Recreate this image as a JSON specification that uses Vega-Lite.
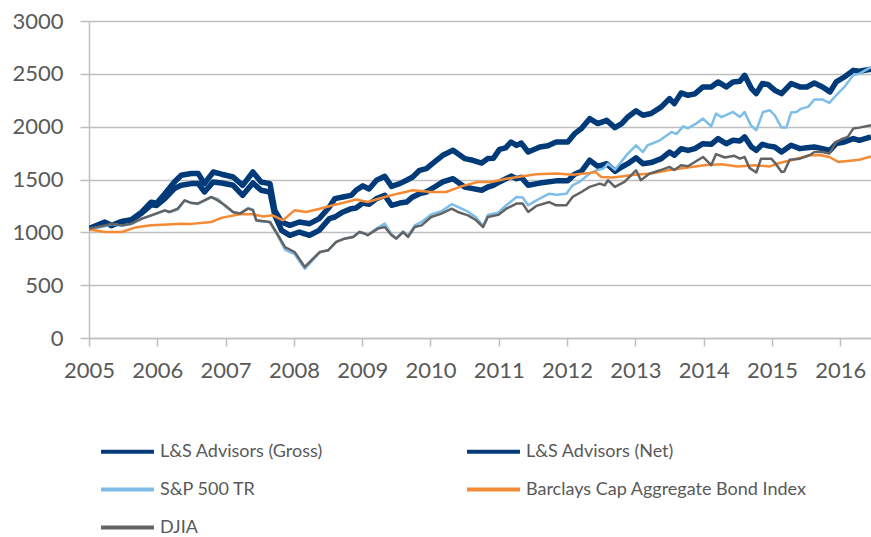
{
"$schema": "https://vega.github.io/schema/vega-lite/v6.json",
"width": 782, "height": 317,
"autosize": {"type": "none"},
"padding": {"left": 89, "top": 21, "right": 0, "bottom": 199},
"config": {"view": {"stroke": null}, "font": "Lato"},
"data": {"values": [
{"series":"L&S Advisors (Gross)","year":2005.00,"value":1035},{"series":"L&S Advisors (Gross)","year":2005.23,"value":1095},{"series":"L&S Advisors (Gross)","year":2005.33,"value":1065},{"series":"L&S Advisors (Gross)","year":2005.47,"value":1100},{"series":"L&S Advisors (Gross)","year":2005.62,"value":1120},{"series":"L&S Advisors (Gross)","year":2005.77,"value":1190},{"series":"L&S Advisors (Gross)","year":2005.91,"value":1285},{"series":"L&S Advisors (Gross)","year":2005.99,"value":1275},{"series":"L&S Advisors (Gross)","year":2006.11,"value":1365},{"series":"L&S Advisors (Gross)","year":2006.25,"value":1476},{"series":"L&S Advisors (Gross)","year":2006.35,"value":1540},{"series":"L&S Advisors (Gross)","year":2006.50,"value":1556},{"series":"L&S Advisors (Gross)","year":2006.60,"value":1556},{"series":"L&S Advisors (Gross)","year":2006.69,"value":1461},{"series":"L&S Advisors (Gross)","year":2006.82,"value":1571},{"series":"L&S Advisors (Gross)","year":2006.94,"value":1550},{"series":"L&S Advisors (Gross)","year":2007.11,"value":1524},{"series":"L&S Advisors (Gross)","year":2007.25,"value":1445},{"series":"L&S Advisors (Gross)","year":2007.40,"value":1571},{"series":"L&S Advisors (Gross)","year":2007.52,"value":1476},{"series":"L&S Advisors (Gross)","year":2007.65,"value":1461},{"series":"L&S Advisors (Gross)","year":2007.72,"value":1208},{"series":"L&S Advisors (Gross)","year":2007.82,"value":1098},{"series":"L&S Advisors (Gross)","year":2007.94,"value":1066},{"series":"L&S Advisors (Gross)","year":2008.08,"value":1098},{"series":"L&S Advisors (Gross)","year":2008.23,"value":1082},{"series":"L&S Advisors (Gross)","year":2008.37,"value":1130},{"series":"L&S Advisors (Gross)","year":2008.52,"value":1240},{"series":"L&S Advisors (Gross)","year":2008.60,"value":1319},{"series":"L&S Advisors (Gross)","year":2008.72,"value":1335},{"series":"L&S Advisors (Gross)","year":2008.84,"value":1350},{"series":"L&S Advisors (Gross)","year":2008.91,"value":1398},{"series":"L&S Advisors (Gross)","year":2009.01,"value":1440},{"series":"L&S Advisors (Gross)","year":2009.10,"value":1410},{"series":"L&S Advisors (Gross)","year":2009.21,"value":1493},{"series":"L&S Advisors (Gross)","year":2009.33,"value":1530},{"series":"L&S Advisors (Gross)","year":2009.43,"value":1435},{"series":"L&S Advisors (Gross)","year":2009.55,"value":1461},{"series":"L&S Advisors (Gross)","year":2009.65,"value":1493},{"series":"L&S Advisors (Gross)","year":2009.74,"value":1524},{"series":"L&S Advisors (Gross)","year":2009.84,"value":1587},{"series":"L&S Advisors (Gross)","year":2009.94,"value":1603},{"series":"L&S Advisors (Gross)","year":2010.06,"value":1666},{"series":"L&S Advisors (Gross)","year":2010.18,"value":1729},{"series":"L&S Advisors (Gross)","year":2010.33,"value":1776},{"series":"L&S Advisors (Gross)","year":2010.50,"value":1698},{"series":"L&S Advisors (Gross)","year":2010.62,"value":1682},{"series":"L&S Advisors (Gross)","year":2010.75,"value":1656},{"series":"L&S Advisors (Gross)","year":2010.84,"value":1698},{"series":"L&S Advisors (Gross)","year":2010.92,"value":1700},{"series":"L&S Advisors (Gross)","year":2011.01,"value":1785},{"series":"L&S Advisors (Gross)","year":2011.10,"value":1800},{"series":"L&S Advisors (Gross)","year":2011.18,"value":1855},{"series":"L&S Advisors (Gross)","year":2011.26,"value":1823},{"series":"L&S Advisors (Gross)","year":2011.33,"value":1845},{"series":"L&S Advisors (Gross)","year":2011.43,"value":1760},{"series":"L&S Advisors (Gross)","year":2011.60,"value":1808},{"series":"L&S Advisors (Gross)","year":2011.72,"value":1820},{"series":"L&S Advisors (Gross)","year":2011.84,"value":1855},{"series":"L&S Advisors (Gross)","year":2012.01,"value":1855},{"series":"L&S Advisors (Gross)","year":2012.11,"value":1934},{"series":"L&S Advisors (Gross)","year":2012.21,"value":1982},{"series":"L&S Advisors (Gross)","year":2012.33,"value":2076},{"series":"L&S Advisors (Gross)","year":2012.45,"value":2029},{"series":"L&S Advisors (Gross)","year":2012.58,"value":2060},{"series":"L&S Advisors (Gross)","year":2012.70,"value":1991},{"series":"L&S Advisors (Gross)","year":2012.80,"value":2029},{"series":"L&S Advisors (Gross)","year":2012.89,"value":2092},{"series":"L&S Advisors (Gross)","year":2013.01,"value":2150},{"series":"L&S Advisors (Gross)","year":2013.11,"value":2108},{"series":"L&S Advisors (Gross)","year":2013.23,"value":2124},{"series":"L&S Advisors (Gross)","year":2013.38,"value":2187},{"series":"L&S Advisors (Gross)","year":2013.50,"value":2266},{"series":"L&S Advisors (Gross)","year":2013.57,"value":2218},{"series":"L&S Advisors (Gross)","year":2013.67,"value":2319},{"series":"L&S Advisors (Gross)","year":2013.77,"value":2297},{"series":"L&S Advisors (Gross)","year":2013.87,"value":2310},{"series":"L&S Advisors (Gross)","year":2013.99,"value":2376},{"series":"L&S Advisors (Gross)","year":2014.11,"value":2376},{"series":"L&S Advisors (Gross)","year":2014.21,"value":2423},{"series":"L&S Advisors (Gross)","year":2014.33,"value":2376},{"series":"L&S Advisors (Gross)","year":2014.43,"value":2423},{"series":"L&S Advisors (Gross)","year":2014.53,"value":2430},{"series":"L&S Advisors (Gross)","year":2014.60,"value":2486},{"series":"L&S Advisors (Gross)","year":2014.70,"value":2360},{"series":"L&S Advisors (Gross)","year":2014.77,"value":2313},{"series":"L&S Advisors (Gross)","year":2014.86,"value":2408},{"series":"L&S Advisors (Gross)","year":2014.94,"value":2400},{"series":"L&S Advisors (Gross)","year":2015.04,"value":2345},{"series":"L&S Advisors (Gross)","year":2015.14,"value":2313},{"series":"L&S Advisors (Gross)","year":2015.28,"value":2408},{"series":"L&S Advisors (Gross)","year":2015.41,"value":2376},{"series":"L&S Advisors (Gross)","year":2015.51,"value":2376},{"series":"L&S Advisors (Gross)","year":2015.62,"value":2413},{"series":"L&S Advisors (Gross)","year":2015.74,"value":2376},{"series":"L&S Advisors (Gross)","year":2015.85,"value":2329},{"series":"L&S Advisors (Gross)","year":2015.94,"value":2423},{"series":"L&S Advisors (Gross)","year":2016.06,"value":2470},{"series":"L&S Advisors (Gross)","year":2016.19,"value":2533},{"series":"L&S Advisors (Gross)","year":2016.28,"value":2524},{"series":"L&S Advisors (Gross)","year":2016.45,"value":2545},
{"series":"L&S Advisors (Net)","year":2005.00,"value":1035},{"series":"L&S Advisors (Net)","year":2005.23,"value":1095},{"series":"L&S Advisors (Net)","year":2005.33,"value":1065},{"series":"L&S Advisors (Net)","year":2005.47,"value":1100},{"series":"L&S Advisors (Net)","year":2005.62,"value":1115},{"series":"L&S Advisors (Net)","year":2005.77,"value":1180},{"series":"L&S Advisors (Net)","year":2005.91,"value":1260},{"series":"L&S Advisors (Net)","year":2005.99,"value":1255},{"series":"L&S Advisors (Net)","year":2006.11,"value":1319},{"series":"L&S Advisors (Net)","year":2006.25,"value":1414},{"series":"L&S Advisors (Net)","year":2006.35,"value":1445},{"series":"L&S Advisors (Net)","year":2006.50,"value":1461},{"series":"L&S Advisors (Net)","year":2006.60,"value":1461},{"series":"L&S Advisors (Net)","year":2006.69,"value":1382},{"series":"L&S Advisors (Net)","year":2006.82,"value":1477},{"series":"L&S Advisors (Net)","year":2006.94,"value":1467},{"series":"L&S Advisors (Net)","year":2007.11,"value":1445},{"series":"L&S Advisors (Net)","year":2007.25,"value":1350},{"series":"L&S Advisors (Net)","year":2007.40,"value":1467},{"series":"L&S Advisors (Net)","year":2007.52,"value":1398},{"series":"L&S Advisors (Net)","year":2007.65,"value":1382},{"series":"L&S Advisors (Net)","year":2007.72,"value":1161},{"series":"L&S Advisors (Net)","year":2007.82,"value":1019},{"series":"L&S Advisors (Net)","year":2007.94,"value":972},{"series":"L&S Advisors (Net)","year":2008.08,"value":1003},{"series":"L&S Advisors (Net)","year":2008.23,"value":972},{"series":"L&S Advisors (Net)","year":2008.37,"value":1019},{"series":"L&S Advisors (Net)","year":2008.52,"value":1130},{"series":"L&S Advisors (Net)","year":2008.60,"value":1145},{"series":"L&S Advisors (Net)","year":2008.72,"value":1193},{"series":"L&S Advisors (Net)","year":2008.84,"value":1224},{"series":"L&S Advisors (Net)","year":2008.91,"value":1230},{"series":"L&S Advisors (Net)","year":2009.01,"value":1277},{"series":"L&S Advisors (Net)","year":2009.10,"value":1266},{"series":"L&S Advisors (Net)","year":2009.21,"value":1319},{"series":"L&S Advisors (Net)","year":2009.33,"value":1350},{"series":"L&S Advisors (Net)","year":2009.43,"value":1256},{"series":"L&S Advisors (Net)","year":2009.55,"value":1277},{"series":"L&S Advisors (Net)","year":2009.65,"value":1287},{"series":"L&S Advisors (Net)","year":2009.74,"value":1335},{"series":"L&S Advisors (Net)","year":2009.84,"value":1366},{"series":"L&S Advisors (Net)","year":2009.94,"value":1382},{"series":"L&S Advisors (Net)","year":2010.06,"value":1429},{"series":"L&S Advisors (Net)","year":2010.18,"value":1477},{"series":"L&S Advisors (Net)","year":2010.33,"value":1508},{"series":"L&S Advisors (Net)","year":2010.50,"value":1429},{"series":"L&S Advisors (Net)","year":2010.62,"value":1414},{"series":"L&S Advisors (Net)","year":2010.75,"value":1398},{"series":"L&S Advisors (Net)","year":2010.84,"value":1429},{"series":"L&S Advisors (Net)","year":2010.92,"value":1445},{"series":"L&S Advisors (Net)","year":2011.01,"value":1477},{"series":"L&S Advisors (Net)","year":2011.18,"value":1532},{"series":"L&S Advisors (Net)","year":2011.26,"value":1508},{"series":"L&S Advisors (Net)","year":2011.33,"value":1520},{"series":"L&S Advisors (Net)","year":2011.43,"value":1445},{"series":"L&S Advisors (Net)","year":2011.60,"value":1466},{"series":"L&S Advisors (Net)","year":2011.84,"value":1487},{"series":"L&S Advisors (Net)","year":2012.01,"value":1487},{"series":"L&S Advisors (Net)","year":2012.11,"value":1550},{"series":"L&S Advisors (Net)","year":2012.21,"value":1577},{"series":"L&S Advisors (Net)","year":2012.33,"value":1682},{"series":"L&S Advisors (Net)","year":2012.45,"value":1624},{"series":"L&S Advisors (Net)","year":2012.58,"value":1650},{"series":"L&S Advisors (Net)","year":2012.70,"value":1577},{"series":"L&S Advisors (Net)","year":2012.80,"value":1618},{"series":"L&S Advisors (Net)","year":2012.89,"value":1650},{"series":"L&S Advisors (Net)","year":2013.01,"value":1705},{"series":"L&S Advisors (Net)","year":2013.11,"value":1650},{"series":"L&S Advisors (Net)","year":2013.23,"value":1660},{"series":"L&S Advisors (Net)","year":2013.38,"value":1697},{"series":"L&S Advisors (Net)","year":2013.50,"value":1760},{"series":"L&S Advisors (Net)","year":2013.57,"value":1730},{"series":"L&S Advisors (Net)","year":2013.67,"value":1792},{"series":"L&S Advisors (Net)","year":2013.77,"value":1775},{"series":"L&S Advisors (Net)","year":2013.87,"value":1792},{"series":"L&S Advisors (Net)","year":2013.99,"value":1839},{"series":"L&S Advisors (Net)","year":2014.11,"value":1833},{"series":"L&S Advisors (Net)","year":2014.21,"value":1887},{"series":"L&S Advisors (Net)","year":2014.33,"value":1839},{"series":"L&S Advisors (Net)","year":2014.43,"value":1871},{"series":"L&S Advisors (Net)","year":2014.53,"value":1865},{"series":"L&S Advisors (Net)","year":2014.60,"value":1903},{"series":"L&S Advisors (Net)","year":2014.70,"value":1808},{"series":"L&S Advisors (Net)","year":2014.77,"value":1776},{"series":"L&S Advisors (Net)","year":2014.86,"value":1833},{"series":"L&S Advisors (Net)","year":2014.94,"value":1818},{"series":"L&S Advisors (Net)","year":2015.04,"value":1808},{"series":"L&S Advisors (Net)","year":2015.14,"value":1760},{"series":"L&S Advisors (Net)","year":2015.28,"value":1824},{"series":"L&S Advisors (Net)","year":2015.41,"value":1792},{"series":"L&S Advisors (Net)","year":2015.51,"value":1800},{"series":"L&S Advisors (Net)","year":2015.62,"value":1808},{"series":"L&S Advisors (Net)","year":2015.74,"value":1792},{"series":"L&S Advisors (Net)","year":2015.85,"value":1776},{"series":"L&S Advisors (Net)","year":2015.94,"value":1839},{"series":"L&S Advisors (Net)","year":2016.06,"value":1855},{"series":"L&S Advisors (Net)","year":2016.19,"value":1887},{"series":"L&S Advisors (Net)","year":2016.28,"value":1871},{"series":"L&S Advisors (Net)","year":2016.45,"value":1903},
{"series":"S&P 500 TR","year":2005.00,"value":1025},{"series":"S&P 500 TR","year":2005.24,"value":1060},{"series":"S&P 500 TR","year":2005.33,"value":1078},{"series":"S&P 500 TR","year":2005.48,"value":1062},{"series":"S&P 500 TR","year":2005.62,"value":1078},{"series":"S&P 500 TR","year":2005.77,"value":1125},{"series":"S&P 500 TR","year":2005.91,"value":1158},{"series":"S&P 500 TR","year":2006.11,"value":1205},{"series":"S&P 500 TR","year":2006.18,"value":1190},{"series":"S&P 500 TR","year":2006.30,"value":1215},{"series":"S&P 500 TR","year":2006.40,"value":1300},{"series":"S&P 500 TR","year":2006.50,"value":1280},{"series":"S&P 500 TR","year":2006.59,"value":1268},{"series":"S&P 500 TR","year":2006.69,"value":1300},{"series":"S&P 500 TR","year":2006.79,"value":1330},{"series":"S&P 500 TR","year":2006.89,"value":1315},{"series":"S&P 500 TR","year":2006.99,"value":1250},{"series":"S&P 500 TR","year":2007.11,"value":1190},{"series":"S&P 500 TR","year":2007.21,"value":1180},{"series":"S&P 500 TR","year":2007.33,"value":1230},{"series":"S&P 500 TR","year":2007.40,"value":1215},{"series":"S&P 500 TR","year":2007.45,"value":1110},{"series":"S&P 500 TR","year":2007.65,"value":1095},{"series":"S&P 500 TR","year":2007.77,"value":960},{"series":"S&P 500 TR","year":2007.87,"value":835},{"series":"S&P 500 TR","year":2008.01,"value":795},{"series":"S&P 500 TR","year":2008.16,"value":655},{"series":"S&P 500 TR","year":2008.28,"value":740},{"series":"S&P 500 TR","year":2008.38,"value":810},{"series":"S&P 500 TR","year":2008.50,"value":830},{"series":"S&P 500 TR","year":2008.62,"value":910},{"series":"S&P 500 TR","year":2008.74,"value":940},{"series":"S&P 500 TR","year":2008.87,"value":960},{"series":"S&P 500 TR","year":2008.96,"value":1005},{"series":"S&P 500 TR","year":2009.04,"value":990},{"series":"S&P 500 TR","year":2009.08,"value":975},{"series":"S&P 500 TR","year":2009.23,"value":1045},{"series":"S&P 500 TR","year":2009.33,"value":1082},{"series":"S&P 500 TR","year":2009.43,"value":985},{"series":"S&P 500 TR","year":2009.50,"value":945},{"series":"S&P 500 TR","year":2009.60,"value":1010},{"series":"S&P 500 TR","year":2009.67,"value":965},{"series":"S&P 500 TR","year":2009.77,"value":1065},{"series":"S&P 500 TR","year":2009.87,"value":1098},{"series":"S&P 500 TR","year":2010.01,"value":1170},{"series":"S&P 500 TR","year":2010.16,"value":1200},{"series":"S&P 500 TR","year":2010.31,"value":1266},{"series":"S&P 500 TR","year":2010.40,"value":1240},{"series":"S&P 500 TR","year":2010.55,"value":1195},{"series":"S&P 500 TR","year":2010.67,"value":1140},{"series":"S&P 500 TR","year":2010.77,"value":1060},{"series":"S&P 500 TR","year":2010.84,"value":1165},{"series":"S&P 500 TR","year":2010.99,"value":1185},{"series":"S&P 500 TR","year":2011.11,"value":1256},{"series":"S&P 500 TR","year":2011.26,"value":1335},{"series":"S&P 500 TR","year":2011.35,"value":1330},{"series":"S&P 500 TR","year":2011.43,"value":1256},{"series":"S&P 500 TR","year":2011.55,"value":1303},{"series":"S&P 500 TR","year":2011.74,"value":1366},{"series":"S&P 500 TR","year":2011.84,"value":1355},{"series":"S&P 500 TR","year":2011.99,"value":1366},{"series":"S&P 500 TR","year":2012.08,"value":1445},{"series":"S&P 500 TR","year":2012.18,"value":1477},{"series":"S&P 500 TR","year":2012.33,"value":1556},{"series":"S&P 500 TR","year":2012.43,"value":1587},{"series":"S&P 500 TR","year":2012.53,"value":1603},{"series":"S&P 500 TR","year":2012.60,"value":1650},{"series":"S&P 500 TR","year":2012.70,"value":1593},{"series":"S&P 500 TR","year":2012.79,"value":1666},{"series":"S&P 500 TR","year":2012.89,"value":1745},{"series":"S&P 500 TR","year":2013.01,"value":1824},{"series":"S&P 500 TR","year":2013.11,"value":1760},{"series":"S&P 500 TR","year":2013.18,"value":1824},{"series":"S&P 500 TR","year":2013.36,"value":1871},{"series":"S&P 500 TR","year":2013.53,"value":1950},{"series":"S&P 500 TR","year":2013.60,"value":1930},{"series":"S&P 500 TR","year":2013.70,"value":2003},{"series":"S&P 500 TR","year":2013.77,"value":1985},{"series":"S&P 500 TR","year":2013.89,"value":2029},{"series":"S&P 500 TR","year":2013.99,"value":2076},{"series":"S&P 500 TR","year":2014.11,"value":2003},{"series":"S&P 500 TR","year":2014.18,"value":2124},{"series":"S&P 500 TR","year":2014.26,"value":2090},{"series":"S&P 500 TR","year":2014.43,"value":2139},{"series":"S&P 500 TR","year":2014.53,"value":2092},{"series":"S&P 500 TR","year":2014.60,"value":2139},{"series":"S&P 500 TR","year":2014.69,"value":2013},{"series":"S&P 500 TR","year":2014.77,"value":1966},{"series":"S&P 500 TR","year":2014.87,"value":2139},{"series":"S&P 500 TR","year":2014.97,"value":2155},{"series":"S&P 500 TR","year":2015.04,"value":2108},{"series":"S&P 500 TR","year":2015.14,"value":1991},{"series":"S&P 500 TR","year":2015.21,"value":1991},{"series":"S&P 500 TR","year":2015.28,"value":2133},{"series":"S&P 500 TR","year":2015.36,"value":2139},{"series":"S&P 500 TR","year":2015.43,"value":2171},{"series":"S&P 500 TR","year":2015.53,"value":2187},{"series":"S&P 500 TR","year":2015.62,"value":2256},{"series":"S&P 500 TR","year":2015.74,"value":2256},{"series":"S&P 500 TR","year":2015.84,"value":2225},{"series":"S&P 500 TR","year":2015.94,"value":2297},{"series":"S&P 500 TR","year":2016.06,"value":2376},{"series":"S&P 500 TR","year":2016.19,"value":2486},{"series":"S&P 500 TR","year":2016.28,"value":2502},{"series":"S&P 500 TR","year":2016.45,"value":2565},
{"series":"Barclays Cap Aggregate Bond Index","year":2005.00,"value":1026},{"series":"Barclays Cap Aggregate Bond Index","year":2005.24,"value":1003},{"series":"Barclays Cap Aggregate Bond Index","year":2005.48,"value":1003},{"series":"Barclays Cap Aggregate Bond Index","year":2005.67,"value":1045},{"series":"Barclays Cap Aggregate Bond Index","year":2005.91,"value":1066},{"series":"Barclays Cap Aggregate Bond Index","year":2006.15,"value":1075},{"series":"Barclays Cap Aggregate Bond Index","year":2006.35,"value":1082},{"series":"Barclays Cap Aggregate Bond Index","year":2006.50,"value":1080},{"series":"Barclays Cap Aggregate Bond Index","year":2006.79,"value":1098},{"series":"Barclays Cap Aggregate Bond Index","year":2006.95,"value":1139},{"series":"Barclays Cap Aggregate Bond Index","year":2007.21,"value":1171},{"series":"Barclays Cap Aggregate Bond Index","year":2007.40,"value":1171},{"series":"Barclays Cap Aggregate Bond Index","year":2007.55,"value":1150},{"series":"Barclays Cap Aggregate Bond Index","year":2007.69,"value":1161},{"series":"Barclays Cap Aggregate Bond Index","year":2007.84,"value":1114},{"series":"Barclays Cap Aggregate Bond Index","year":2008.01,"value":1208},{"series":"Barclays Cap Aggregate Bond Index","year":2008.18,"value":1193},{"series":"Barclays Cap Aggregate Bond Index","year":2008.38,"value":1224},{"series":"Barclays Cap Aggregate Bond Index","year":2008.57,"value":1256},{"series":"Barclays Cap Aggregate Bond Index","year":2008.77,"value":1287},{"series":"Barclays Cap Aggregate Bond Index","year":2008.91,"value":1310},{"series":"Barclays Cap Aggregate Bond Index","year":2009.08,"value":1287},{"series":"Barclays Cap Aggregate Bond Index","year":2009.33,"value":1335},{"series":"Barclays Cap Aggregate Bond Index","year":2009.52,"value":1366},{"series":"Barclays Cap Aggregate Bond Index","year":2009.74,"value":1398},{"series":"Barclays Cap Aggregate Bond Index","year":2010.01,"value":1382},{"series":"Barclays Cap Aggregate Bond Index","year":2010.23,"value":1382},{"series":"Barclays Cap Aggregate Bond Index","year":2010.45,"value":1435},{"series":"Barclays Cap Aggregate Bond Index","year":2010.69,"value":1477},{"series":"Barclays Cap Aggregate Bond Index","year":2010.89,"value":1477},{"series":"Barclays Cap Aggregate Bond Index","year":2011.11,"value":1508},{"series":"Barclays Cap Aggregate Bond Index","year":2011.35,"value":1530},{"series":"Barclays Cap Aggregate Bond Index","year":2011.55,"value":1550},{"series":"Barclays Cap Aggregate Bond Index","year":2011.84,"value":1556},{"series":"Barclays Cap Aggregate Bond Index","year":2012.08,"value":1545},{"series":"Barclays Cap Aggregate Bond Index","year":2012.33,"value":1561},{"series":"Barclays Cap Aggregate Bond Index","year":2012.42,"value":1570},{"series":"Barclays Cap Aggregate Bond Index","year":2012.50,"value":1524},{"series":"Barclays Cap Aggregate Bond Index","year":2012.67,"value":1520},{"series":"Barclays Cap Aggregate Bond Index","year":2012.82,"value":1530},{"series":"Barclays Cap Aggregate Bond Index","year":2012.99,"value":1545},{"series":"Barclays Cap Aggregate Bond Index","year":2013.23,"value":1556},{"series":"Barclays Cap Aggregate Bond Index","year":2013.48,"value":1587},{"series":"Barclays Cap Aggregate Bond Index","year":2013.77,"value":1613},{"series":"Barclays Cap Aggregate Bond Index","year":2014.01,"value":1635},{"series":"Barclays Cap Aggregate Bond Index","year":2014.26,"value":1645},{"series":"Barclays Cap Aggregate Bond Index","year":2014.50,"value":1624},{"series":"Barclays Cap Aggregate Bond Index","year":2014.75,"value":1635},{"series":"Barclays Cap Aggregate Bond Index","year":2014.97,"value":1624},{"series":"Barclays Cap Aggregate Bond Index","year":2015.11,"value":1656},{"series":"Barclays Cap Aggregate Bond Index","year":2015.31,"value":1687},{"series":"Barclays Cap Aggregate Bond Index","year":2015.55,"value":1729},{"series":"Barclays Cap Aggregate Bond Index","year":2015.72,"value":1729},{"series":"Barclays Cap Aggregate Bond Index","year":2015.84,"value":1713},{"series":"Barclays Cap Aggregate Bond Index","year":2015.97,"value":1666},{"series":"Barclays Cap Aggregate Bond Index","year":2016.11,"value":1676},{"series":"Barclays Cap Aggregate Bond Index","year":2016.28,"value":1687},{"series":"Barclays Cap Aggregate Bond Index","year":2016.45,"value":1718},
{"series":"DJIA","year":2005.00,"value":1035},{"series":"DJIA","year":2005.24,"value":1066},{"series":"DJIA","year":2005.33,"value":1082},{"series":"DJIA","year":2005.48,"value":1066},{"series":"DJIA","year":2005.62,"value":1082},{"series":"DJIA","year":2005.77,"value":1130},{"series":"DJIA","year":2005.91,"value":1161},{"series":"DJIA","year":2006.11,"value":1208},{"series":"DJIA","year":2006.18,"value":1193},{"series":"DJIA","year":2006.30,"value":1224},{"series":"DJIA","year":2006.40,"value":1303},{"series":"DJIA","year":2006.50,"value":1277},{"series":"DJIA","year":2006.59,"value":1272},{"series":"DJIA","year":2006.69,"value":1303},{"series":"DJIA","year":2006.79,"value":1335},{"series":"DJIA","year":2006.89,"value":1300},{"series":"DJIA","year":2006.99,"value":1256},{"series":"DJIA","year":2007.11,"value":1193},{"series":"DJIA","year":2007.21,"value":1177},{"series":"DJIA","year":2007.33,"value":1224},{"series":"DJIA","year":2007.40,"value":1210},{"series":"DJIA","year":2007.45,"value":1114},{"series":"DJIA","year":2007.65,"value":1098},{"series":"DJIA","year":2007.77,"value":972},{"series":"DJIA","year":2007.87,"value":861},{"series":"DJIA","year":2008.01,"value":814},{"series":"DJIA","year":2008.16,"value":672},{"series":"DJIA","year":2008.28,"value":751},{"series":"DJIA","year":2008.38,"value":814},{"series":"DJIA","year":2008.50,"value":830},{"series":"DJIA","year":2008.62,"value":909},{"series":"DJIA","year":2008.74,"value":940},{"series":"DJIA","year":2008.87,"value":956},{"series":"DJIA","year":2008.96,"value":1003},{"series":"DJIA","year":2009.04,"value":987},{"series":"DJIA","year":2009.08,"value":972},{"series":"DJIA","year":2009.23,"value":1035},{"series":"DJIA","year":2009.33,"value":1050},{"series":"DJIA","year":2009.43,"value":972},{"series":"DJIA","year":2009.50,"value":940},{"series":"DJIA","year":2009.60,"value":1003},{"series":"DJIA","year":2009.67,"value":956},{"series":"DJIA","year":2009.77,"value":1050},{"series":"DJIA","year":2009.87,"value":1066},{"series":"DJIA","year":2010.01,"value":1145},{"series":"DJIA","year":2010.16,"value":1177},{"series":"DJIA","year":2010.31,"value":1224},{"series":"DJIA","year":2010.40,"value":1193},{"series":"DJIA","year":2010.55,"value":1161},{"series":"DJIA","year":2010.67,"value":1114},{"series":"DJIA","year":2010.77,"value":1050},{"series":"DJIA","year":2010.84,"value":1145},{"series":"DJIA","year":2010.99,"value":1165},{"series":"DJIA","year":2011.11,"value":1224},{"series":"DJIA","year":2011.26,"value":1272},{"series":"DJIA","year":2011.35,"value":1272},{"series":"DJIA","year":2011.43,"value":1193},{"series":"DJIA","year":2011.55,"value":1250},{"series":"DJIA","year":2011.74,"value":1287},{"series":"DJIA","year":2011.84,"value":1256},{"series":"DJIA","year":2011.99,"value":1256},{"series":"DJIA","year":2012.08,"value":1335},{"series":"DJIA","year":2012.21,"value":1382},{"series":"DJIA","year":2012.33,"value":1430},{"series":"DJIA","year":2012.48,"value":1461},{"series":"DJIA","year":2012.55,"value":1445},{"series":"DJIA","year":2012.60,"value":1493},{"series":"DJIA","year":2012.70,"value":1430},{"series":"DJIA","year":2012.84,"value":1477},{"series":"DJIA","year":2013.01,"value":1587},{"series":"DJIA","year":2013.08,"value":1493},{"series":"DJIA","year":2013.21,"value":1556},{"series":"DJIA","year":2013.36,"value":1587},{"series":"DJIA","year":2013.50,"value":1619},{"series":"DJIA","year":2013.57,"value":1590},{"series":"DJIA","year":2013.67,"value":1635},{"series":"DJIA","year":2013.77,"value":1625},{"series":"DJIA","year":2013.87,"value":1666},{"series":"DJIA","year":2013.99,"value":1713},{"series":"DJIA","year":2014.11,"value":1635},{"series":"DJIA","year":2014.18,"value":1740},{"series":"DJIA","year":2014.31,"value":1708},{"series":"DJIA","year":2014.45,"value":1724},{"series":"DJIA","year":2014.53,"value":1697},{"series":"DJIA","year":2014.60,"value":1713},{"series":"DJIA","year":2014.67,"value":1610},{"series":"DJIA","year":2014.77,"value":1566},{"series":"DJIA","year":2014.84,"value":1697},{"series":"DJIA","year":2014.99,"value":1697},{"series":"DJIA","year":2015.06,"value":1645},{"series":"DJIA","year":2015.14,"value":1571},{"series":"DJIA","year":2015.18,"value":1575},{"series":"DJIA","year":2015.26,"value":1687},{"series":"DJIA","year":2015.41,"value":1697},{"series":"DJIA","year":2015.55,"value":1729},{"series":"DJIA","year":2015.62,"value":1760},{"series":"DJIA","year":2015.74,"value":1760},{"series":"DJIA","year":2015.84,"value":1745},{"series":"DJIA","year":2015.94,"value":1855},{"series":"DJIA","year":2016.04,"value":1887},{"series":"DJIA","year":2016.11,"value":1903},{"series":"DJIA","year":2016.19,"value":1982},{"series":"DJIA","year":2016.28,"value":1991},{"series":"DJIA","year":2016.45,"value":2013}
]},
"encoding": {
"x": {"field": "year", "type": "quantitative",
 "scale": {"domain": [2005, 2016.45], "nice": false, "zero": false},
 "axis": {"title": null, "values": [2005,2006,2007,2008,2009,2010,2011,2012,2013,2014,2015,2016], "format": "d", "grid": false,
  "domainColor": "#bfbfbf", "domainWidth": 1.5, "tickColor": "#bfbfbf", "tickWidth": 1.5, "tickSize": 8,
  "labelFont": "Lato", "labelFontSize": 22, "labelColor": "#595959", "labelPadding": 14, "labelFlush": false, "labelOverlap": false}},
"y": {"field": "value", "type": "quantitative",
 "scale": {"domain": [0, 3000], "nice": false},
 "axis": {"title": null, "values": [0,500,1000,1500,2000,2500,3000], "format": "d", "grid": true, "gridColor": "#bfbfbf", "gridWidth": 1.5,
  "domainColor": "#bfbfbf", "domainWidth": 1.5, "tickColor": "#bfbfbf", "tickWidth": 1.5, "tickSize": 9,
  "labelFont": "Lato", "labelFontSize": 22, "labelColor": "#595959", "labelPadding": 17}},
"color": {"field": "series", "type": "nominal",
 "scale": {"domain": ["L&S Advisors (Gross)","L&S Advisors (Net)","S&P 500 TR","Barclays Cap Aggregate Bond Index","DJIA"],
  "range": ["#003a78","#003a78","#7dbde8","#f58a34","#636363"]},
 "legend": {"title": null, "orient": "none", "legendX": 10, "legendY": 402, "columns": 2, "direction": "horizontal", "columnPadding": 136, "rowPadding": -10,
  "symbolType": "stroke", "symbolSize": 2800, "symbolStrokeWidth": 4, "labelFont": "Lato", "labelFontSize": 18, "labelColor": "#595959", "labelOffset": 4, "labelLimit": 400}}
},
"layer": [
 {"transform": [{"filter": "indexof(datum.series, 'L&S') === 0"}],
  "mark": {"type": "line", "strokeJoin": "round", "strokeWidth": 5.5, "clip": true}},
 {"transform": [{"filter": "indexof(datum.series, 'L&S') !== 0"}],
  "mark": {"type": "line", "strokeJoin": "round", "strokeWidth": 2.5, "clip": true}}
]
}
